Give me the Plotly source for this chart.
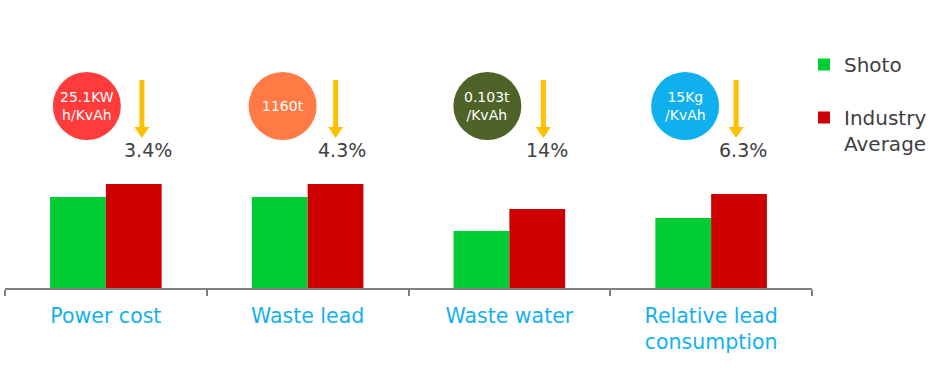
import plotly.graph_objects as go

# ---------------- data ----------------
categories = ["Power cost", "Waste lead", "Waste water", "Relative lead<br>consumption"]
shoto = [91, 91, 57, 70]
industry_avg = [104, 104, 79, 94]
circle_labels = ["25.1KW<br>h/KvAh", "1160t", "0.103t<br>/KvAh", "15Kg<br>/KvAh"]
reduction_labels = ["3.4%", "4.3%", "14%", "6.3%"]

# ---------------- style / layout ----------------
circle_colors = ["#FF3B3B", "#FF7A45", "#4F6228", "#10B0EE"]
circle_dx = [-19, -25, -22, -26]   # pixel offset of circle centre from category centre
arrow_dx = [36, 28, 34, 25]
pct_dx = [42, 34, 38, 32]
GREEN = "#00CC33"
RED = "#CC0000"
AXIS = "#808080"
TEXT = "#404040"
LABEL_BLUE = "#14B1F0"

W, H = 938, 383
M_T, M_B, M_L, M_R = 39, 95, 5, 126
PLOT_H = H - M_T - M_B
BASE_PX = H - M_B


def paper_y(px):
    return (BASE_PX - px) / PLOT_H


fig = go.Figure()
fig.add_bar(x=categories, y=shoto, name="Shoto", marker=dict(color=GREEN, line_width=0),
            legendgroup="a")
fig.add_bar(x=categories, y=industry_avg, name="Industry<br>Average",
            marker=dict(color=RED, line_width=0), legendgroup="b")

shapes = []
annotations = []
R = 34
cy = paper_y(106)
arrow_tip = paper_y(138)
for i in range(len(categories)):
    shapes.append(dict(type="circle", xref="x", yref="paper", xsizemode="pixel", ysizemode="pixel",
                       xanchor=i, yanchor=cy, x0=circle_dx[i] - R, x1=circle_dx[i] + R,
                       y0=-R, y1=R, fillcolor=circle_colors[i], line=dict(width=0), layer="above"))
    dx = arrow_dx[i]
    shapes.append(dict(type="path", xref="x", yref="paper", xsizemode="pixel", ysizemode="pixel",
                       xanchor=i, yanchor=arrow_tip,
                       path=(f"M {dx-2.5},58 L {dx+2.5},58 L {dx+2.5},11 L {dx+7.5},11 "
                             f"L {dx},0 L {dx-7.5},11 L {dx-2.5},11 Z"),
                       fillcolor="#FFC000", line=dict(width=0), layer="above"))
    annotations.append(dict(x=i, xref="x", xshift=circle_dx[i], y=cy, yref="paper",
                            xanchor="center", yanchor="middle",
                            text=circle_labels[i], showarrow=False,
                            font=dict(size=14, color="white", family="DejaVu Sans")))
    annotations.append(dict(x=i, xref="x", xshift=pct_dx[i], y=paper_y(150), yref="paper",
                            xanchor="center", yanchor="middle",
                            text=reduction_labels[i], showarrow=False,
                            font=dict(size=19, color=TEXT, family="DejaVu Sans")))

fig.update_layout(
    width=W, height=H,
    margin=dict(t=M_T, b=M_B, l=M_L, r=M_R, autoexpand=False),
    paper_bgcolor="white", plot_bgcolor="white",
    barmode="group", bargap=0.447, bargroupgap=0,
    font=dict(family="DejaVu Sans", color=TEXT),
    shapes=shapes, annotations=annotations,
    showlegend=True,
    legend=dict(xref="container", x=804 / W, xanchor="left",
                yref="container", y=1 - 45 / H, yanchor="top",
                font=dict(size=20, color=TEXT, family="DejaVu Sans"),
                traceorder="grouped", tracegroupgap=24, valign="top",
                bgcolor="rgba(0,0,0,0)"),
    xaxis=dict(type="category", range=[-0.5, 3.5], showline=True, linecolor=AXIS, linewidth=2,
               ticks="outside", tickson="boundaries", ticklen=6, tickwidth=2, tickcolor=AXIS,
               showgrid=False, zeroline=False, ticklabelstandoff=8,
               tickfont=dict(size=20.5, color=LABEL_BLUE, family="DejaVu Sans")),
    yaxis=dict(range=[0, PLOT_H], visible=False, showgrid=False, zeroline=False),
)

fig.write_html("out.html", config={"displayModeBar": False})

# remove default page margin so the figure sits at the window origin
with open("out.html", "r", encoding="utf-8") as f:
    html = f.read()
html = html.replace("<head>", "<head><style>html,body{margin:0;padding:0;overflow:hidden;}</style>", 1)
with open("out.html", "w", encoding="utf-8") as f:
    f.write(html)
